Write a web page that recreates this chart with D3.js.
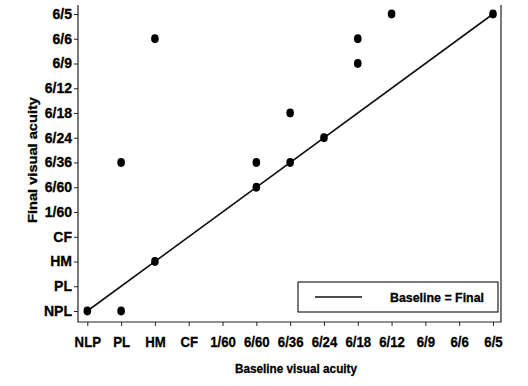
<!DOCTYPE html>
<html>
<head>
<meta charset="utf-8">
<script src="https://cdn.jsdelivr.net/npm/d3@7"></script>
<style>
  body { margin: 0; background: #fff; }
  text { font-family: "Liberation Sans Narrow", "Arial Narrow", "Liberation Sans", sans-serif; font-weight: bold; fill: #000; stroke: #000; stroke-width: 0.3px; }
</style>
</head>
<body>
<svg id="chart" width="528" height="386"></svg>
<script>
// categories
let baselineLevels = ['NLP', 'PL', 'HM', 'CF', '1/60', '6/60', '6/36', '6/24', '6/18', '6/12', '6/9', '6/6', '6/5']
let finalLevels = ['NPL', 'PL', 'HM', 'CF', '1/60', '6/60', '6/36', '6/24', '6/18', '6/12', '6/9', '6/6', '6/5']
// patients: baseline vs final acuity
let baselineVA = ['NLP', 'PL', 'PL', 'HM', 'HM', '6/60', '6/60', '6/36', '6/36', '6/24', '6/18', '6/18', '6/12', '6/5']
let finalVA = ['NPL', 'NPL', '6/36', '6/6', 'HM', '6/36', '6/60', '6/18', '6/36', '6/24', '6/6', '6/9', '6/5', '6/5']

let svg = d3.select('#chart')
let frameL = 78, frameR = 501, frameT = 5, frameB = 322

let xScale = d3.scalePoint().domain(baselineLevels).range([87.3, 493])
let yScale = d3.scalePoint().domain(finalLevels).range([311, 14])

// x axis
let xAxis = svg.append('g').attr('transform', 'translate(0,' + frameB + ')')
    .call(d3.axisBottom(xScale).tickSize(4).tickPadding(10))
xAxis.select('.domain').remove()
xAxis.selectAll('text').attr('font-size', 15).attr('font-family', null)
    .attr('transform', 'scale(0.88,1)')
// y axis
let yAxis = svg.append('g').attr('transform', 'translate(' + frameL + ',0)')
    .call(d3.axisLeft(yScale).tickSize(4).tickPadding(2))
yAxis.select('.domain').remove()
yAxis.selectAll('text').attr('font-size', 14).attr('font-family', null)
svg.selectAll('.tick line').attr('stroke', '#222')

// frame
svg.append('path')
    .attr('d', 'M' + frameL + ',' + frameT + 'V' + frameB + 'H' + frameR + 'V' + frameT)
    .attr('fill', 'none').attr('stroke', '#222').attr('stroke-width', 1.2)

// line of equality
svg.append('line')
    .attr('x1', xScale(baselineLevels[0])).attr('y1', yScale(finalLevels[0]))
    .attr('x2', xScale(baselineLevels[12])).attr('y2', yScale(finalLevels[12]))
    .attr('stroke', '#111').attr('stroke-width', 1.6)

// points
svg.append('g').selectAll('ellipse')
    .data(baselineVA.map((b, i) => ({b: b, f: finalVA[i]})))
    .join('ellipse')
    .attr('cx', d => xScale(d.b))
    .attr('cy', d => yScale(d.f))
    .attr('rx', 3.8).attr('ry', 4.4)
    .attr('fill', '#000')

// legend
let lg = svg.append('g')
lg.append('rect').attr('x', 298).attr('y', 282).attr('width', 200).attr('height', 30)
    .attr('fill', '#fff').attr('stroke', '#222').attr('stroke-width', 1.2)
lg.append('line').attr('x1', 315).attr('x2', 362).attr('y1', 297).attr('y2', 297)
    .attr('stroke', '#111').attr('stroke-width', 1.4)
lg.append('text').attr('x', 390).attr('y', 302)
    .attr('font-size', 13).attr('textLength', 94).attr('lengthAdjust', 'spacingAndGlyphs')
    .text('Baseline = Final')

// axis titles
svg.append('text').attr('x', 235).attr('y', 373)
    .attr('font-size', 13).attr('textLength', 122).attr('lengthAdjust', 'spacingAndGlyphs')
    .text('Baseline visual acuity')
svg.append('text').attr('transform', 'translate(37,223) rotate(-90)')
    .attr('font-size', 13).attr('textLength', 126).attr('lengthAdjust', 'spacingAndGlyphs')
    .text('Final visual acuity')
</script>
</body>
</html>
